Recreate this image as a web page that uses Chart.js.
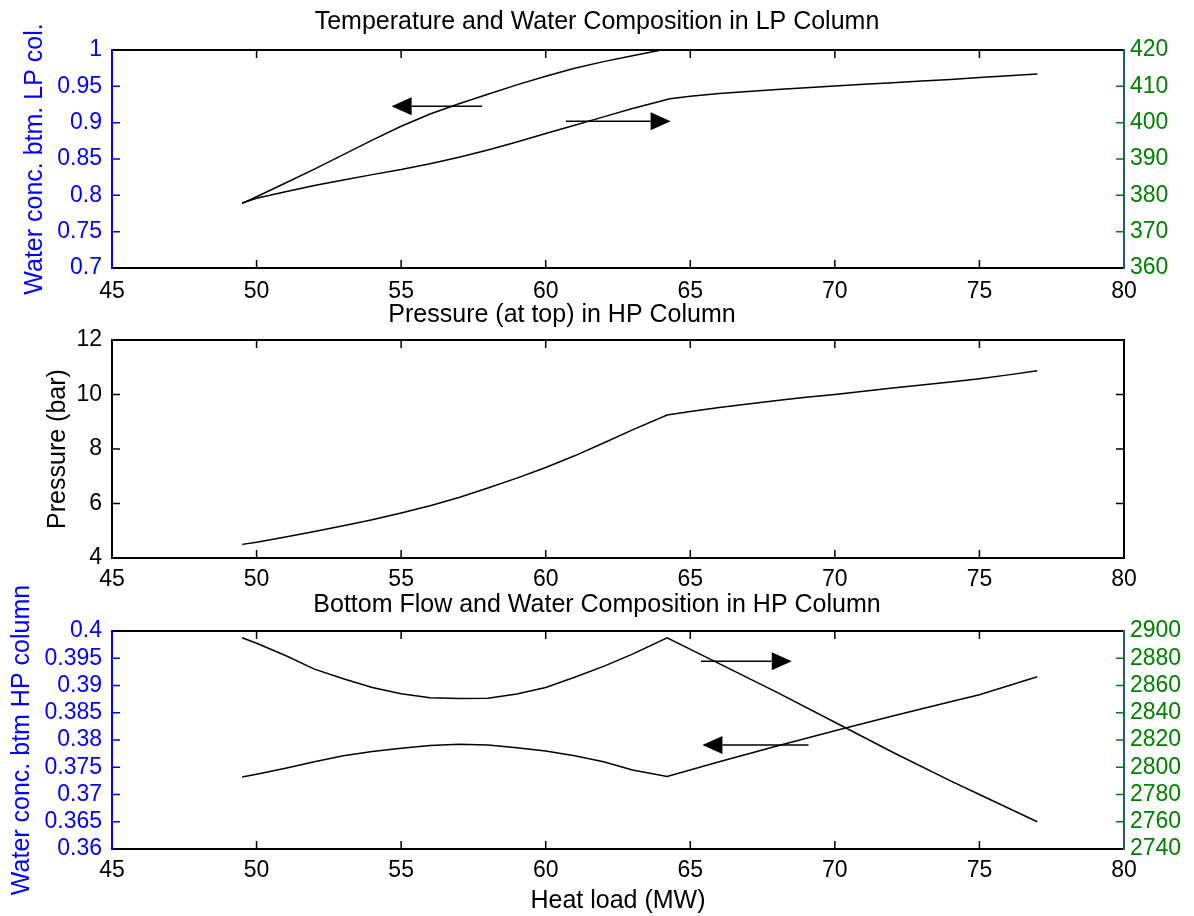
<!DOCTYPE html>
<html>
<head>
<meta charset="utf-8">
<script src="https://cdn.jsdelivr.net/npm/chart.js@4.4.1/dist/chart.umd.min.js"></script>
<style>
  body { margin: 0; background: #fff; }
  #wrap { position: relative; width: 1194px; height: 916px; overflow: hidden; }
  .box { position: absolute; left: 0; width: 1194px; }
</style>
</head>
<body>
<div id="wrap">
  <div class="box" style="top:0;height:310px"><canvas id="lp"></canvas></div>
  <div class="box" style="top:296px;height:304px"><canvas id="pres"></canvas></div>
  <div class="box" style="top:586px;height:330px"><canvas id="hp"></canvas></div>
</div>
<script>
// LP column (top)
const heatLoadLpWater = [49.5, 50, 51, 52, 53, 54, 55, 56, 57, 58, 59, 60, 61, 62, 63, 64];
const waterLp = [0.789, 0.798, 0.817, 0.836, 0.856, 0.876, 0.895, 0.912, 0.926, 0.939, 0.952, 0.964, 0.975, 0.984, 0.992, 1.0];
const heatLoadLpTemp = [49.5, 50, 51, 52, 53, 54, 55, 56, 57, 58, 59, 60, 61, 62, 63, 64.3, 65, 66, 67, 68, 69, 70, 71, 72, 73, 74, 75, 76, 77];
const tempLp = [377.9, 379.2, 381.0, 382.7, 384.2, 385.7, 387.1, 388.7, 390.5, 392.5, 394.7, 397.0, 399.3, 401.6, 403.9, 406.6, 407.3, 408.0, 408.6, 409.1, 409.6, 410.1, 410.6, 411.0, 411.5, 411.9, 412.4, 412.9, 413.4];

// HP column pressure (middle)
const heatLoadPres = [49.5, 50, 51, 52, 53, 54, 55, 56, 57, 58, 59, 60, 61, 62, 63, 64.2, 65, 66, 67, 68, 69, 70, 71, 72, 73, 74, 75, 76, 77];
const pressureHp = [4.5, 4.58, 4.77, 4.97, 5.18, 5.4, 5.65, 5.92, 6.22, 6.57, 6.93, 7.32, 7.75, 8.22, 8.7, 9.25, 9.38, 9.52, 9.65, 9.78, 9.9, 10.0, 10.12, 10.24, 10.35, 10.46, 10.58, 10.72, 10.87];

// HP column bottom (lower)
const heatLoadHp = [49.5, 50, 51, 52, 53, 54, 55, 56, 57, 58, 59, 60, 61, 62, 63, 64.2, 66, 68, 70, 72, 74, 75, 77];
const waterHp = [0.3732, 0.3737, 0.3748, 0.3760, 0.3771, 0.3779, 0.3785, 0.3790, 0.3792, 0.3791, 0.3786, 0.3780, 0.3771, 0.3760, 0.3745, 0.3733, 0.3760, 0.3789, 0.3817, 0.3844, 0.3870, 0.3883, 0.3916];
const flowHp = [2895, 2891, 2882, 2872, 2865, 2858.5, 2854, 2851, 2850.5, 2850.7, 2853.7, 2858.5, 2866, 2874, 2883, 2895, 2876, 2855, 2833, 2811, 2790, 2780, 2760];

// arrows: [x start, x tip, y]
const lpArrowWater = [57.8, 54.67, 0.9225];
const lpArrowTemp = [60.7, 64.32, 400.4];
const hpArrowFlow = [65.37, 68.51, 2877.8];
const hpArrowWater = [69.09, 65.42, 0.3791];

const xTicks = [45, 50, 55, 60, 65, 70, 75, 80];

const F = 'Liberation Sans, Arial, Helvetica, sans-serif';
const BLUE = '#0000ff';
const GREEN = '#008000';

const pts = (xs, ys) => xs.map((x, i) => ({ x: x, y: ys[i] }));
const fmt = v => String(+(+v).toFixed(4));

// box, inward ticks and arrows
const framePlugin = {
  id: 'frame',
  afterDatasetsDraw(chart, args, opts) {
    const { ctx, chartArea: a, scales } = chart;
    const tl = 8;
    ctx.save();
    ctx.lineWidth = 1.5;
    ctx.strokeStyle = '#000';
    ctx.beginPath();
    scales.x.ticks.forEach(t => {
      const px = scales.x.getPixelForValue(t.value);
      ctx.moveTo(px, a.bottom); ctx.lineTo(px, a.bottom - tl);
      ctx.moveTo(px, a.top); ctx.lineTo(px, a.top + tl);
    });
    ctx.stroke();

    ctx.strokeStyle = opts.left;
    ctx.beginPath();
    scales.y.ticks.forEach(t => {
      const py = scales.y.getPixelForValue(t.value);
      ctx.moveTo(a.left, py); ctx.lineTo(a.left + tl, py);
      if (!scales.y1) { ctx.moveTo(a.right, py); ctx.lineTo(a.right - tl, py); }
    });
    ctx.stroke();

    if (scales.y1) {
      ctx.strokeStyle = GREEN;
      ctx.beginPath();
      scales.y1.ticks.forEach(t => {
        const py = scales.y1.getPixelForValue(t.value);
        ctx.moveTo(a.right, py); ctx.lineTo(a.right - tl, py);
      });
      ctx.stroke();
    }

    // spines
    ctx.lineWidth = 2;
    ctx.strokeStyle = '#000';
    ctx.beginPath();
    ctx.moveTo(a.left, a.top); ctx.lineTo(a.right, a.top);
    ctx.moveTo(a.left, a.bottom); ctx.lineTo(a.right, a.bottom);
    ctx.stroke();
    ctx.strokeStyle = opts.left;
    ctx.beginPath(); ctx.moveTo(a.left, a.top - 1); ctx.lineTo(a.left, a.bottom + 1); ctx.stroke();
    ctx.strokeStyle = opts.right;
    ctx.beginPath(); ctx.moveTo(a.right, a.top - 1); ctx.lineTo(a.right, a.bottom + 1); ctx.stroke();

    // arrows
    (opts.arrows || []).forEach(ar => {
      const s = scales[ar.axis];
      const x0 = scales.x.getPixelForValue(ar.v[0]);
      const x1 = scales.x.getPixelForValue(ar.v[1]);
      const y = s.getPixelForValue(ar.v[2]);
      const dir = x1 > x0 ? 1 : -1;
      const hl = 20, hw = 9;
      ctx.strokeStyle = '#000';
      ctx.fillStyle = '#000';
      ctx.lineWidth = 1.5;
      ctx.beginPath(); ctx.moveTo(x0, y); ctx.lineTo(x1 - dir * hl, y); ctx.stroke();
      ctx.beginPath();
      ctx.moveTo(x1, y);
      ctx.lineTo(x1 - dir * hl, y - hw);
      ctx.lineTo(x1 - dir * hl, y + hw);
      ctx.closePath();
      ctx.fill();
    });
    ctx.restore();
  }
};

function xScale(h, pad, title) {
  return {
    type: 'linear', position: 'bottom', min: 45, max: 80,
    afterBuildTicks: s => { s.ticks = xTicks.map(v => ({ value: v })); },
    afterFit: s => { s.height = h; },
    grid: { display: false, drawTicks: false }, border: { display: false },
    ticks: { color: '#000', font: { family: F, size: 23 }, padding: pad, maxRotation: 0, autoSkip: false, callback: fmt },
    title: title ? { display: true, text: title, color: '#000', font: { family: F, size: 25 }, padding: { top: 0, bottom: 0 } } : { display: false }
  };
}

function yScale(min, max, step, color, label, labelPad) {
  return {
    type: 'linear', position: 'left', min: min, max: max,
    afterFit: s => { s.width = 112; },
    grid: { display: false, drawTicks: false }, border: { display: false },
    ticks: { stepSize: step, color: color, font: { family: F, size: 23 }, padding: 10, autoSkip: false, callback: fmt },
    title: { display: true, text: label, color: color, font: { family: F, size: 25 }, padding: { top: labelPad, bottom: 0 } }
  };
}

function y1Scale(min, max, step) {
  return {
    type: 'linear', position: 'right', min: min, max: max,
    afterFit: s => { s.width = 70; },
    grid: { display: false, drawTicks: false }, border: { display: false },
    ticks: { stepSize: step, color: GREEN, font: { family: F, size: 23 }, padding: 6, autoSkip: false, callback: fmt }
  };
}

function titleOpt(text, top, bottom) {
  return { display: true, text: text, color: '#000', font: { family: F, size: 25, weight: 'normal' }, padding: { top: top, bottom: bottom } };
}

function line(data, axis) {
  return { data: data, yAxisID: axis, borderColor: '#000', borderWidth: 1.5, pointRadius: 0, fill: false, tension: 0 };
}

const common = {
  responsive: true,
  maintainAspectRatio: false,
  animation: false,
  events: [],
  layout: { padding: 0 }
};

new Chart(document.getElementById('lp'), {
  type: 'line',
  data: { datasets: [line(pts(heatLoadLpWater, waterLp), 'y'), line(pts(heatLoadLpTemp, tempLp), 'y1')] },
  options: Object.assign({}, common, {
    scales: {
      x: xScale(42, 10),
      y: yScale(0.7, 1, 0.05, BLUE, 'Water conc. btm. LP col.', 20),
      y1: y1Scale(360, 420, 10)
    },
    plugins: {
      legend: { display: false }, tooltip: { enabled: false },
      title: titleOpt('Temperature and Water Composition in LP Column', 7, 13),
      frame: { left: BLUE, right: '#1f5a7a', arrows: [{ axis: 'y', v: lpArrowWater }, { axis: 'y1', v: lpArrowTemp }] }
    }
  }),
  plugins: [framePlugin]
});

new Chart(document.getElementById('pres'), {
  type: 'line',
  data: { datasets: [line(pts(heatLoadPres, pressureHp), 'y')] },
  options: Object.assign({}, common, {
    layout: { padding: { right: 70 } },
    scales: {
      x: xScale(42, 8),
      y: yScale(4, 12, 2, '#000', 'Pressure (bar)', 43)
    },
    plugins: {
      legend: { display: false }, tooltip: { enabled: false },
      title: titleOpt('Pressure (at top) in HP Column', 4, 10),
      frame: { left: '#000', right: '#000', arrows: [] }
    }
  }),
  plugins: [framePlugin]
});

new Chart(document.getElementById('hp'), {
  type: 'line',
  data: { datasets: [line(pts(heatLoadHp, waterHp), 'y'), line(pts(heatLoadHp, flowHp), 'y1')] },
  options: Object.assign({}, common, {
    scales: {
      x: xScale(67, 8, 'Heat load (MW)'),
      y: yScale(0.36, 0.4, 0.005, BLUE, 'Water conc. btm HP column', 7),
      y1: y1Scale(2740, 2900, 20)
    },
    plugins: {
      legend: { display: false }, tooltip: { enabled: false },
      title: titleOpt('Bottom Flow and Water Composition in HP Column', 4, 11),
      frame: { left: BLUE, right: '#1f5a7a', arrows: [{ axis: 'y1', v: hpArrowFlow }, { axis: 'y', v: hpArrowWater }] }
    }
  }),
  plugins: [framePlugin]
});
</script>
</body>
</html>
